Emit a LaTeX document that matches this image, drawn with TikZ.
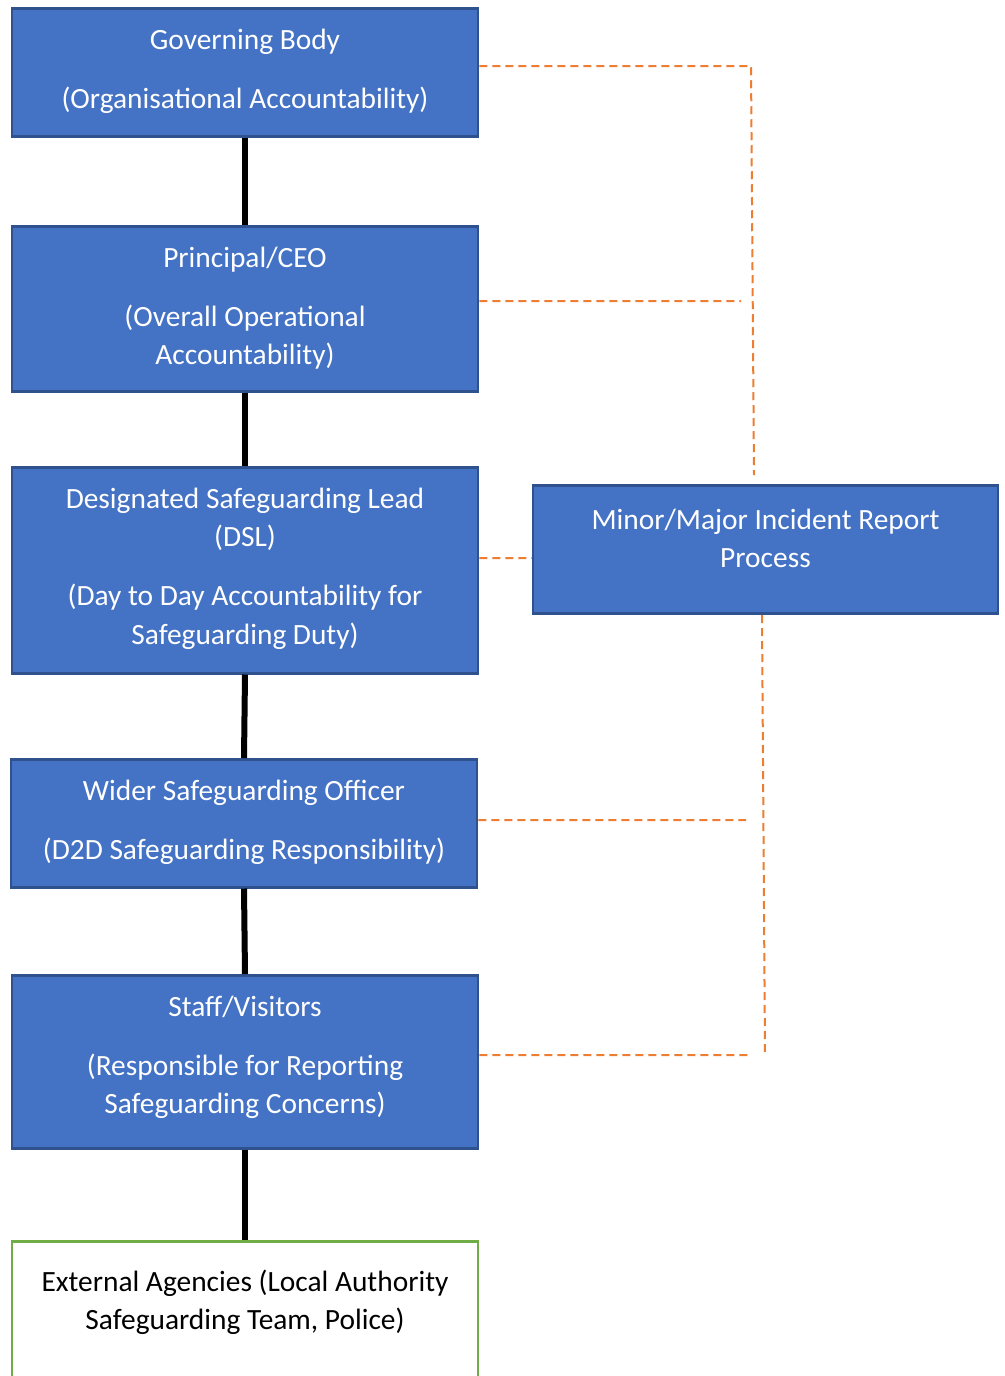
\documentclass[tikz,border=0pt]{standalone}
\usepackage{fontspec}
\setmainfont{Carlito}
\definecolor{boxblue}{HTML}{4472C4}
\definecolor{boxline}{HTML}{2F528F}
\definecolor{agencygreen}{HTML}{70AD47}
\definecolor{linkorange}{HTML}{ED7D31}
% box text, top aligned: height, top gap, lines
\newcommand{\tbox}[3]{\parbox[c][#1][t]{230pt}{\centering\vspace*{#2}#3}}
\newcommand{\gap}{\\[10.3pt]}
\tikzset{
  unit/.style={draw=boxline, fill=boxblue, line width=1.25pt, text=white,
    inner sep=0pt, minimum width=233pt, anchor=north},
  agency/.style={unit, draw=agencygreen, fill=white, text=black},
  chain/.style={line width=3pt, black},
  report/.style={linkorange, line width=1pt, dash pattern=on 4pt off 2.5pt}
}
\begin{document}
\begin{tikzpicture}[x=0.5pt, y=-0.5pt]
  \useasboundingbox (0,0) rectangle (1005,1376);
  \fontsize{14.7}{19.25}\selectfont

  \node[unit] (gov) at (245,7)
    {\tbox{64pt}{7pt}{\strut Governing Body\gap\strut(Organisational Accountability)}};
  \node[unit] (ceo) at (245,225)
    {\tbox{82.5pt}{7pt}{\strut Principal/CEO\gap\strut(Overall Operational\\\strut Accountability)}};
  \node[unit] (dsl) at (245,466)
    {\tbox{103pt}{7pt}{\strut Designated Safeguarding Lead\\\strut(DSL)\gap\strut(Day to Day Accountability for\\\strut Safeguarding Duty)}};
  \node[unit] (wider) at (244,758)
    {\tbox{64pt}{7pt}{\strut Wider Safeguarding Officer\gap\strut(D2D Safeguarding Responsibility)}};
  \node[unit] (staff) at (245,974)
    {\tbox{86.5pt}{7pt}{\strut Staff/Visitors\gap\strut(Responsible for Reporting\\\strut Safeguarding Concerns)}};
  \node[agency] (ext) at (245,1240)
    {\tbox{100pt}{11.5pt}{\strut External Agencies (Local Authority\\\strut Safeguarding Team, Police)}};
  \node[unit, minimum width=232.5pt] (minor) at (765.5,484)
    {\tbox{64pt}{8.5pt}{\strut Minor/Major Incident Report\\\strut Process}};

  % line of accountability
  \foreach \a/\b in {gov/ceo, ceo/dsl, dsl/wider, wider/staff, staff/ext}
  {
    \draw[chain] (\a.south) -- (\b.north);
  }

  % reporting links
  \coordinate (up1) at (751,66);
  \coordinate (up2) at (754,475);
  \coordinate (up3) at (741,301);
  \coordinate (mid) at (0,558);
  \coordinate (lo1) at (762,615);
  \coordinate (lo2) at (765,1056);
  \coordinate (lo3) at (746,820);
  \coordinate (lo4) at (750,1055);

  \draw[report]
    (gov.east |- up1) -- (up1) -- (up2)
    (ceo.east |- up3) -- (up3)
    (dsl.east |- mid) -- (minor.west |- mid)
    (lo1) -- (lo2)
    (wider.east |- lo3) -- (lo3)
    (staff.east |- lo4) -- (lo4);
\end{tikzpicture}
\end{document}
